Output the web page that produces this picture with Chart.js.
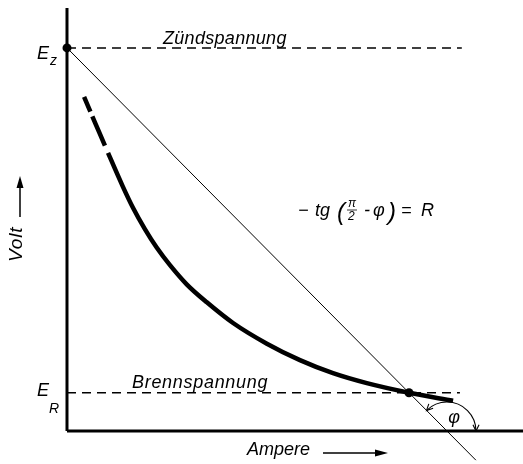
<!DOCTYPE html>
<html>
<head>
<meta charset="utf-8">
<script src="https://cdn.jsdelivr.net/npm/chart.js@4"></script>
<style>
  html, body { margin: 0; padding: 0; background: #fff; }
</style>
</head>
<body>
<canvas id="kennlinie" width="523" height="464"></canvas>
<script>
// Spannungen (Volt) und Arbeitspunkt (Ampere)
const zuendVolt = 100;
const brennVolt = 10;
const arbeitAmpere = 90;

// Lichtbogenkennlinie; die ersten Punkte bis strichBis werden gestrichelt
const kennAmpere = [4.5, 7.6, 10.8, 14.7, 17.4, 20.5, 23.6, 27.1, 31.5, 36.8, 43.7, 52.6, 61.3, 70, 78.9, 90, 101.6];
const kennVolt = [87.2, 80.0, 72.6, 63.8, 58.2, 52.7, 47.9, 43.3, 38.3, 33.6, 28.2, 22.8, 18.5, 15.1, 12.5, 10, 7.9];
const strichBis = 2;

// Widerstandsgerade durch E_z und den Arbeitspunkt
const geradeAmpere = [0, 90, 107.6];
const geradeVolt = [100, 10, -7.6];

// Länge der Waagerechten und der Achsen
const zuendEnde = 103.9;
const brennEnde = 103.4;
const ampereMax = 120;
const voltMax = 110.4;

const pts = (xs, ys) => xs.map((x, i) => ({ x: x, y: ys[i] }));

function linie(data, breite, strich) {
  return {
    data: data,
    showLine: true,
    borderColor: '#000',
    backgroundColor: '#000',
    borderWidth: breite,
    borderDash: strich || [],
    pointRadius: 0,
    cubicInterpolationMode: 'monotone'
  };
}

function pfeilspitze(ctx, x, y, winkel, laenge, breite) {
  ctx.beginPath();
  ctx.moveTo(x, y);
  ctx.lineTo(x - laenge * Math.cos(winkel) + breite * Math.sin(winkel),
             y - laenge * Math.sin(winkel) - breite * Math.cos(winkel));
  ctx.lineTo(x - laenge * Math.cos(winkel) - breite * Math.sin(winkel),
             y - laenge * Math.sin(winkel) + breite * Math.cos(winkel));
  ctx.closePath();
  ctx.fill();
}

function offeneSpitze(ctx, x, y, winkel, laenge) {
  ctx.beginPath();
  ctx.moveTo(x - laenge * Math.cos(winkel - 0.45), y - laenge * Math.sin(winkel - 0.45));
  ctx.lineTo(x, y);
  ctx.lineTo(x - laenge * Math.cos(winkel + 0.45), y - laenge * Math.sin(winkel + 0.45));
  ctx.stroke();
}

// Beschriftung, Achsenpfeile und Winkel φ
const beschriftung = {
  id: 'beschriftung',
  afterDatasetsDraw(chart) {
    const { ctx, scales: { x, y } } = chart;
    const px = v => x.getPixelForValue(v);
    const py = v => y.getPixelForValue(v);
    const schrift = s => 'italic ' + s + 'px "Liberation Sans", Arial, sans-serif';
    const x0 = px(0);

    ctx.save();
    ctx.fillStyle = '#000';
    ctx.strokeStyle = '#000';
    ctx.textAlign = 'left';
    ctx.textBaseline = 'alphabetic';

    // E_z und E_R
    ctx.font = schrift(18);
    ctx.fillText('E', x0 - 30, py(zuendVolt) + 11);
    ctx.fillText('E', x0 - 30, py(brennVolt) + 3);
    ctx.font = schrift(14);
    ctx.fillText('z', x0 - 17, py(zuendVolt) + 17);
    ctx.fillText('R', x0 - 18, py(brennVolt) + 20);

    // Zündspannung / Brennspannung
    ctx.font = schrift(18);
    ctx.letterSpacing = '0.3px';
    ctx.fillText('Zündspannung', 163, py(zuendVolt) - 4);
    ctx.letterSpacing = '0.7px';
    ctx.fillText('Brennspannung', 132, py(brennVolt) - 5);
    ctx.letterSpacing = '0px';

    // −tg (π/2 − φ) = R
    ctx.fillText('−', 298, 216);
    ctx.fillText('tg', 315, 216);
    ctx.font = 'italic 300 24px "Liberation Sans", Arial, sans-serif';
    ctx.fillText('(', 337, 220);
    ctx.fillText(')', 388, 220);
    ctx.font = schrift(12);
    ctx.fillText('π', 348, 207);
    ctx.fillText('2', 348, 220);
    ctx.lineWidth = 0.8;
    ctx.beginPath();
    ctx.moveTo(347, 210);
    ctx.lineTo(357, 210);
    ctx.stroke();
    ctx.font = schrift(18);
    ctx.fillText('-', 364, 216);
    ctx.fillText('φ', 373, 216);
    ctx.fillText('=', 401, 216);
    ctx.fillText('R', 421, 216);

    // Volt →
    ctx.save();
    ctx.translate(22, 262);
    ctx.rotate(-Math.PI / 2);
    ctx.font = schrift(19);
    ctx.letterSpacing = '0.8px';
    ctx.fillText('Volt', 0, 0);
    ctx.restore();
    ctx.lineWidth = 1.5;
    ctx.beginPath();
    ctx.moveTo(20, 217);
    ctx.lineTo(20, 186);
    ctx.stroke();
    pfeilspitze(ctx, 20, 176, -Math.PI / 2, 12, 3.5);

    // Ampere →
    ctx.font = schrift(18);
    ctx.fillText('Ampere', 247, 455);
    ctx.beginPath();
    ctx.moveTo(323, 453);
    ctx.lineTo(378, 453);
    ctx.stroke();
    pfeilspitze(ctx, 388, 453, 0, 13, 3.5);

    // Winkel φ zwischen Gerade und Abszisse
    const t = geradeVolt[1] / (geradeVolt[1] - geradeVolt[2]);
    const nullAmpere = geradeAmpere[1] + t * (geradeAmpere[2] - geradeAmpere[1]);
    const cx = px(nullAmpere), cy = py(0);
    const r = 29;
    const a0 = -3 * Math.PI / 4, a1 = 0;
    ctx.lineWidth = 1.1;
    ctx.beginPath();
    ctx.arc(cx, cy, r, a0, a1);
    ctx.stroke();
    offeneSpitze(ctx, cx + r * Math.cos(a0), cy + r * Math.sin(a0), a0 - Math.PI / 2, 7);
    offeneSpitze(ctx, cx + r * Math.cos(a1), cy + r * Math.sin(a1), a1 + Math.PI / 2, 7);
    ctx.textAlign = 'center';
    ctx.textBaseline = 'middle';
    ctx.font = schrift(18);
    ctx.fillText('φ', cx + 7, cy - 13);

    ctx.restore();
  }
};

const kennlinie = linie(pts(kennAmpere, kennVolt), 4.5);
kennlinie.segment = {
  borderDash: c => (c.p1DataIndex <= strichBis ? [16, 5, 32, 8] : [])
};

new Chart(document.getElementById('kennlinie'), {
  type: 'scatter',
  data: {
    datasets: [
      linie(pts([0, ampereMax], [0, 0]), 3),
      linie(pts([0, 0], [0, voltMax]), 3),
      linie(pts([0, zuendEnde], [zuendVolt, zuendVolt]), 1.5, [9, 6]),
      linie(pts([0, brennEnde], [brennVolt, brennVolt]), 1.5, [9, 6]),
      linie(pts(geradeAmpere, geradeVolt), 1),
      kennlinie,
      {
        data: pts([0, arbeitAmpere], [zuendVolt, brennVolt]),
        showLine: false,
        pointRadius: 4.5,
        pointBackgroundColor: '#000',
        pointBorderWidth: 0
      }
    ]
  },
  options: {
    responsive: false,
    devicePixelRatio: 1,
    animation: false,
    layout: { padding: 0, autoPadding: false },
    plugins: { legend: { display: false }, tooltip: { enabled: false } },
    scales: {
      x: { type: 'linear', min: -17.63, max: 120, display: false },
      y: { type: 'linear', min: -8.6, max: 112.5, display: false }
    }
  },
  plugins: [beschriftung]
});
</script>
</body>
</html>
